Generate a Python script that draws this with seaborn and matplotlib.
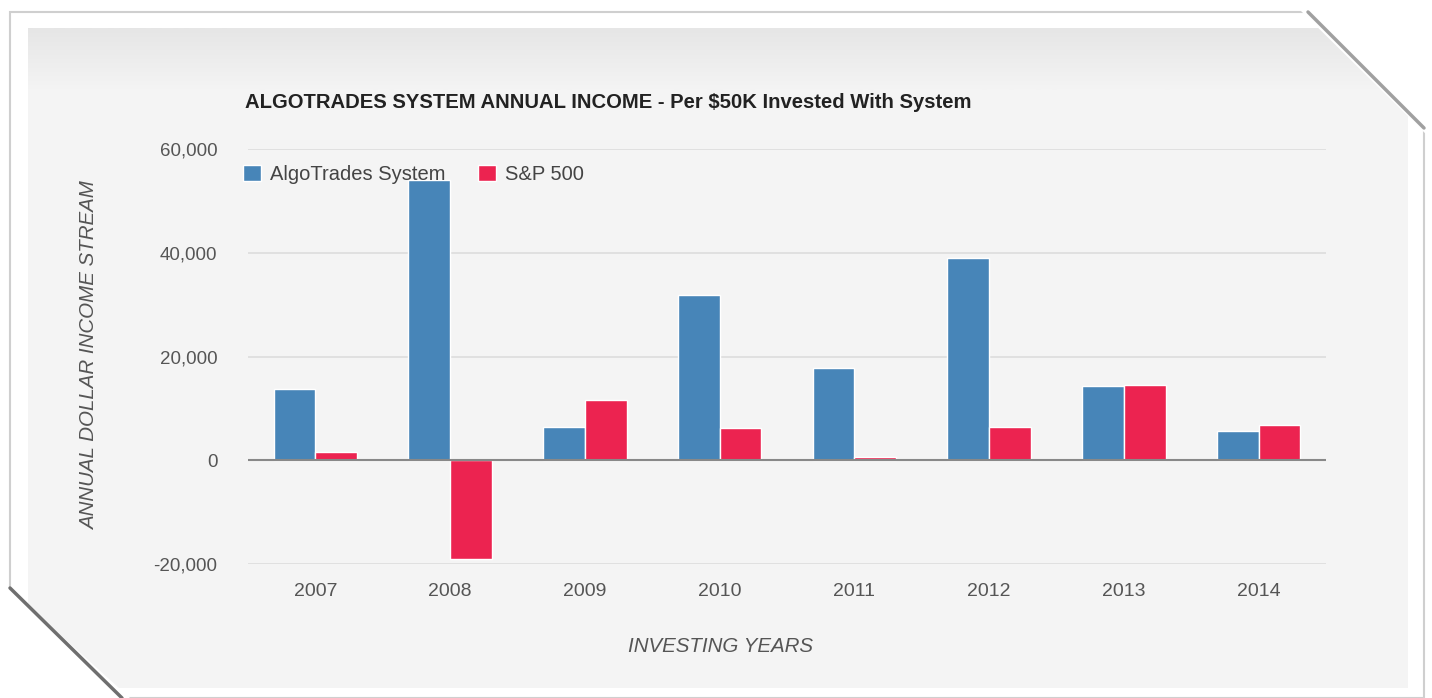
import numpy as np
import pandas as pd
import seaborn as sns
import matplotlib.pyplot as plt
from matplotlib.patches import Polygon

# Data
years = ["2007", "2008", "2009", "2010", "2011", "2012", "2013", "2014"]
algo_values = [13800, 54000, 6400, 31800, 17700, 38900, 14300, 5600]
sp500_values = [1500, -19100, 11600, 6200, 600, 6400, 14600, 6700]
series_names = ["AlgoTrades System", "S&P 500"]
y_ticks = [-20000, 0, 20000, 40000, 60000]

df = pd.DataFrame({
    "year": years * 2,
    "income": algo_values + sp500_values,
    "series": [series_names[0]] * len(years) + [series_names[1]] * len(years),
})

sns.set_theme(style="white")
plt.rcParams["font.family"] = ["Liberation Sans", "DejaVu Sans"]

W, H = 1432, 698
fig = plt.figure(figsize=(W / 100, H / 100), dpi=100)
fig.patch.set_facecolor("white")

# Background frame with bevelled corners
bg = fig.add_axes([0, 0, 1, 1])
bg.set_xlim(0, W)
bg.set_ylim(H, 0)
bg.axis("off")
outer = [(10, 12), (1308, 12), (1424, 128), (1424, 698), (122, 698), (10, 588)]
bg.add_patch(Polygon(outer, closed=True, facecolor="white", edgecolor="#cfcfcf", lw=1.5))
grad = np.linspace(0, 1, 60).reshape(-1, 1)
bg.imshow(grad, cmap=plt.matplotlib.colors.LinearSegmentedColormap.from_list("g", ["#e6e6e6", "#f4f4f4"]),
          extent=[28, 1408, 90, 28], aspect="auto", zorder=1)
bg.add_patch(plt.Rectangle((28, 90), 1380, 598, facecolor="#f4f4f4", edgecolor="none", zorder=1))
bg.add_patch(Polygon([(1300, 10), (1432, 10), (1432, 140)], closed=True, facecolor="white", edgecolor="none", zorder=2))
bg.add_patch(Polygon([(0, 580), (0, 698), (130, 698)], closed=True, facecolor="white", edgecolor="none", zorder=2))
bg.plot([1308, 1424], [12, 128], color="#a0a0a0", lw=2.5, zorder=3)
bg.plot([10, 122], [588, 698], color="#6f6f6f", lw=2.5, zorder=3)

ax = fig.add_axes([248 / W, 1 - 564 / H, (1326 - 248) / W, (564 - 149) / H])
ax.set_facecolor("none")
sns.barplot(data=df, x="year", y="income", hue="series", palette=["#4785b8", "#ec2350"],
            width=0.62, gap=0, saturation=1, ax=ax, legend=True)

ax.set_xlim(-0.5, 7.5)
ax.set_ylim(-20000, 60000)
ax.set_yticks(y_ticks)
ax.set_yticklabels([f"{v:,}" for v in y_ticks])
ax.yaxis.grid(True, color="#dcdcdc", lw=1.2)
ax.set_axisbelow(True)
ax.axhline(0, color="#888888", lw=1.5, zorder=5)
for s in ax.spines.values():
    s.set_visible(False)
ax.tick_params(axis="both", length=0, colors="#555555")
ax.tick_params(axis="y", pad=22, labelsize=13.5)
ax.tick_params(axis="x", pad=14, labelsize=14)
ax.set_xlabel("")
ax.set_ylabel("")

leg = ax.legend(loc="upper left", bbox_to_anchor=(-0.012, 0.982), ncol=2, frameon=False,
                fontsize=14.5, handlelength=0.9, handleheight=0.9, handletextpad=0.45,
                columnspacing=1.6, borderaxespad=0)
for t in leg.get_texts():
    t.set_color("#444444")

fig.text(245 / W, 1 - 103 / H, "ALGOTRADES SYSTEM ANNUAL INCOME - Per $50K Invested With System",
         fontsize=14.6, fontweight="bold", color="#222222", va="center", ha="left")
fig.text(90 / W, 1 - 356 / H, "ANNUAL DOLLAR INCOME STREAM", rotation=90, style="italic",
         fontsize=14.8, color="#555555", va="center", ha="center")
fig.text(720 / W, 1 - 647 / H, "INVESTING YEARS", style="italic",
         fontsize=14.8, color="#555555", va="center", ha="center")

plt.savefig("out.png", dpi=100)
